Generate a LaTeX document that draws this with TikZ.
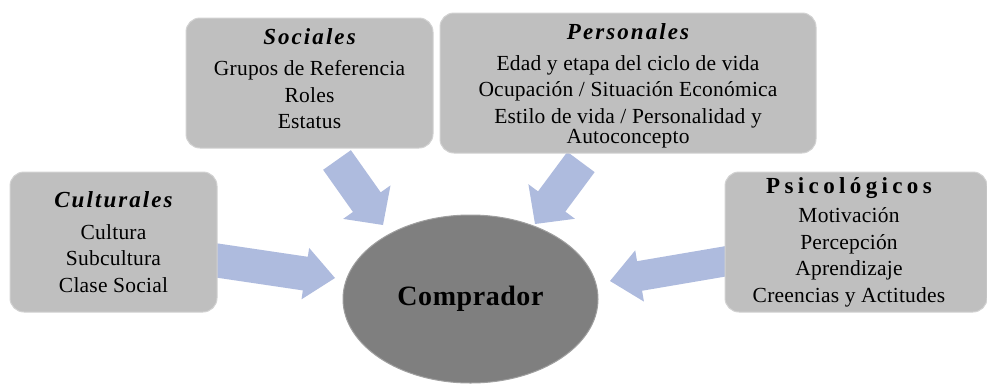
\documentclass[tikz,border=0pt]{standalone}
\usepackage{fontspec}
\setmainfont{Liberation Serif}
\newfontfamily\bodyf[LetterSpace=1]{Liberation Serif}
\newfontfamily\titf[LetterSpace=9]{Liberation Serif}
\newfontfamily\psif[LetterSpace=19]{Liberation Serif}
\newfontfamily\compf[LetterSpace=2]{Liberation Serif}
\usetikzlibrary{calc,shapes.geometric}
\definecolor{boxgray}{RGB}{191,191,191}
\definecolor{ellgray}{RGB}{127,127,127}
\definecolor{arrblue}{RGB}{174,187,222}
\tikzset{
  factorbox/.style={rounded corners=14pt, fill=boxgray, draw=gray!35, line width=1pt, inner sep=0pt},
  factortext/.style={align=center, inner sep=0pt, font=\bodyf\fontsize{21.5}{26.5}\selectfont},
  buyer/.style={ellipse, fill=ellgray, draw=gray!75, line width=1pt, inner sep=0pt,
    font=\compf\bfseries\fontsize{28}{30}\selectfont},
}
\newcommand{\tit}[1]{{\titf\bfseries\itshape\fontsize{23}{26}\selectfont #1}}
% fat arrow: tail, tip, half shaft width, half head width, head length
\newcommand{\fatarrow}[5]{%
  \fill[arrblue]
    ($(#1)!#3!-90:(#2)$) --
    ($($(#2)!#5!(#1)$)!#3!-90:(#2)$) --
    ($($(#2)!#5!(#1)$)!#4!-90:(#2)$) --
    (#2) --
    ($($(#2)!#5!(#1)$)!#4!90:(#2)$) --
    ($($(#2)!#5!(#1)$)!#3!90:(#2)$) --
    ($(#1)!#3!90:(#2)$) -- cycle;}
\begin{document}
\begin{tikzpicture}[x=1pt,y=-1pt]
\useasboundingbox (0,0) rectangle (987,383);
% arrow end points
\coordinate (t1) at (337,160); \coordinate (h1) at (383,225);
\coordinate (t2) at (581,162); \coordinate (h2) at (535,224);
\coordinate (t3) at (200,258); \coordinate (h3) at (335,278);
\coordinate (t4) at (745,258); \coordinate (h4) at (610,281);
\fatarrow{t1}{h1}{17pt}{29pt}{28pt}
\fatarrow{t2}{h2}{17pt}{29pt}{28pt}
\fatarrow{t3}{h3}{17pt}{26pt}{30pt}
\fatarrow{t4}{h4}{15pt}{26pt}{30pt}
% boxes
\node[factorbox, minimum width=247pt, minimum height=130pt] (soc) at (309.5,83) {};
\node[factorbox, minimum width=376pt, minimum height=140pt] (per) at (628,83) {};
\node[factorbox, minimum width=207pt, minimum height=140pt] (cul) at (113.5,242) {};
\node[factorbox, minimum width=262pt, minimum height=140pt] (psi) at (856,242) {};
% texts
\node[factortext] (soct) at (309.5,78.5)
  {\tit{Sociales}\\[5pt]Grupos de Referencia\\Roles\\Estatus};
\node[factortext] (pert) at (628,86)
  {\tit{Personales}\\[4pt]Edad y etapa del ciclo de vida\\Ocupación / Situación Económica\\Estilo de vida / Personalidad y\\[-6pt]Autoconcepto};
\node[factortext] (cult) at (113.5,242)
  {\tit{Culturales}\\[5pt]Cultura\\Subcultura\\Clase Social};
\node[factortext] (psit) at (849,242)
  {{\psif\bfseries\fontsize{23}{26}\selectfont Psicológicos}\\[3pt]Motivación\\Percepción\\Aprendizaje\\Creencias y Actitudes};
\node[buyer, minimum width=255pt, minimum height=168pt] (comp) at (470.5,299) {Comprador};
\end{tikzpicture}
\end{document}
